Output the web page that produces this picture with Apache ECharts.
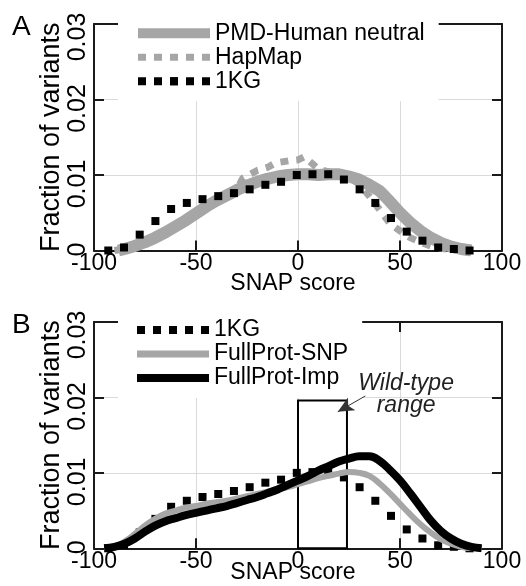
<!DOCTYPE html>
<html><head><meta charset="utf-8">
<script src="https://cdn.jsdelivr.net/npm/echarts@6/dist/echarts.min.js"></script>
<style>html,body{margin:0;padding:0;background:#fff}#c{width:526px;height:586px}</style>
</head><body><div id="c"></div>
<script>
// ---------- data ----------
const xTickLabels = ['-100', '-50', '0', '50', '100'];
const yTickValues = [0, 0.01, 0.02, 0.03];
const yTickLabels = ['0', '0.01', '0.02', '0.03'];

// Panel A
const pmdX = [-88, -85, -80, -75, -70, -65, -60, -55, -50, -45, -40, -35, -30, -25, -20, -15, -10, -5, 0, 5, 10, 15, 20, 25, 30, 35, 40, 45, 50, 55, 60, 65, 70, 75, 80, 85];
const pmdY = [0, 0.0002, 0.0006, 0.0011, 0.0017, 0.0024, 0.0032, 0.0040, 0.0049, 0.0058, 0.0066, 0.0073, 0.0080, 0.0086, 0.0091, 0.0095, 0.0098, 0.0100, 0.0101, 0.0101, 0.0100, 0.0101, 0.0101, 0.0098, 0.0094, 0.0087, 0.0079, 0.0065, 0.0050, 0.0037, 0.0026, 0.0017, 0.0010, 0.0005, 0.0002, 0];

const hapX = [-90, -85, -80, -75, -70, -65, -60, -55, -50, -45, -40, -35, -30, -27, -20, -15, -11, -4, 0, 3, 7, 10, 15, 20, 25, 30, 35, 40, 45, 50, 55, 60, 65, 70, 75, 80, 85];
const hapY = [0, 0.0002, 0.0005, 0.0010, 0.0016, 0.0023, 0.0031, 0.0039, 0.0048, 0.0057, 0.0065, 0.0073, 0.0081, 0.0096, 0.0106, 0.0110, 0.0116, 0.0119, 0.0120, 0.0124, 0.0115, 0.0108, 0.0104, 0.0101, 0.0097, 0.0088, 0.0072, 0.0054, 0.0036, 0.0026, 0.0017, 0.0011, 0.0006, 0.0003, 0.0001, 0, 0];

const kgX = [-93, -85.3, -77.6, -69.9, -62.2, -54.5, -46.8, -39.1, -31.4, -23.7, -16, -8.3, -0.6, 7.1, 14.8, 22.5, 30.2, 37.9, 45.6, 53.3, 61, 68.7, 76.4, 84.1];
const kgY = [0, 0.0004, 0.0021, 0.0039, 0.0055, 0.0063, 0.0068, 0.0072, 0.0076, 0.0081, 0.0087, 0.0091, 0.0100, 0.0101, 0.0101, 0.0094, 0.0081, 0.0063, 0.0043, 0.0025, 0.0013, 0.0004, 0.0002, 0];

// Panel B
const bX = [-95, -90, -85, -80, -75, -70, -65, -60, -55, -50, -45, -40, -35, -30, -25, -20, -15, -10, -5, 0, 5, 10, 15, 20, 25, 30, 35, 40, 45, 50, 55, 60, 65, 70, 75, 80, 85, 90];
const snpY = [0, 0.0002, 0.0009, 0.0019, 0.0030, 0.0039, 0.0046, 0.0050, 0.0054, 0.0056, 0.0059, 0.0061, 0.0063, 0.0066, 0.0069, 0.0072, 0.0075, 0.0078, 0.0081, 0.0085, 0.0089, 0.0093, 0.0096, 0.0099, 0.0101, 0.0100, 0.0096, 0.0086, 0.0073, 0.0059, 0.0045, 0.0032, 0.0021, 0.0012, 0.0006, 0.0002, 0, 0];
const impY = [0, 0.0002, 0.0006, 0.0013, 0.0022, 0.0030, 0.0036, 0.0040, 0.0044, 0.0047, 0.0050, 0.0053, 0.0056, 0.0060, 0.0064, 0.0068, 0.0073, 0.0078, 0.0084, 0.0090, 0.0096, 0.0103, 0.0109, 0.0115, 0.0119, 0.0122, 0.0122, 0.0116, 0.0104, 0.0090, 0.0073, 0.0055, 0.0037, 0.0023, 0.0013, 0.0006, 0.0002, 0];

// Wild-type range annotation
const wildTypeX = [0, 24];
const wildTypeTop = 0.0196;
const arrowFrom = [33, 0.0202];
const arrowTo = [19.5, 0.0181];
const annotationPos = [53, 0.0204];
const annotationText = 'Wild-type\nrange';

// ---------- chart ----------
const FONT = '"Liberation Sans", Arial, Helvetica, sans-serif';
const GREY = '#a6a6a6';
const AXC = '#1a1a1a';
// rotated y tick labels sit slightly below their ticks, as in the original (pixels)
const yLabelShiftPx = [-1, 9, 9, 13];
function pairs(xs, ys) { return xs.map((x, i) => [x, ys[i]]); }

function xAx(gi, bottom, nameGap) {
  return {
    type: 'value', gridIndex: gi, position: bottom ? 'bottom' : 'top',
    min: -100, max: 100, interval: 50,
    axisLine: { show: true, onZero: false, lineStyle: { color: AXC, width: 2 } },
    axisTick: { show: true, inside: true, length: 10, lineStyle: { color: AXC, width: 2 } },
    axisLabel: bottom ? {
      show: true, fontSize: 23, color: '#000', fontFamily: FONT, margin: 2,
      showMinLabel: true, showMaxLabel: true,
      formatter: (v, i) => xTickLabels[i]
    } : { show: false },
    splitLine: bottom ? { show: true, showMinLine: false, showMaxLine: false, lineStyle: { color: '#dadada', width: 1 } } : { show: false },
    name: bottom ? 'SNAP score' : '', nameLocation: 'middle', nameGap: nameGap || 17, nameMoveOverlap: false,
    nameTextStyle: { fontSize: 23, color: '#000', fontFamily: FONT, padding: [0, 10, 0, 0] }
  };
}
function yAx(gi, left) {
  return {
    type: 'value', gridIndex: gi, position: left ? 'left' : 'right',
    min: 0, max: 0.03, interval: 0.01,
    axisLine: { show: true, onZero: false, lineStyle: { color: AXC, width: 2 } },
    axisTick: { show: true, inside: true, length: 10, lineStyle: { color: AXC, width: 2 } },
    axisLabel: { show: false },
    splitLine: left ? { show: true, showMinLine: false, showMaxLine: false, lineStyle: { color: '#dadada', width: 1 } } : { show: false },
    name: left ? 'Fraction of variants' : '', nameLocation: 'middle', nameRotate: 90, nameGap: 29, nameMoveOverlap: false,
    nameTextStyle: { fontSize: 27, color: '#000', fontFamily: FONT }
  };
}

function legendCfg(top, data) {
  return {
    orient: 'vertical', left: 118, top: top, padding: [3, 14, 8, 15], itemGap: 0,
    itemWidth: 72, itemHeight: 10, backgroundColor: '#fff', selectedMode: false,
    textStyle: { fontSize: 23, color: '#000', fontFamily: FONT, lineHeight: 24 },
    data: data
  };
}
const noSym = { opacity: 0 };
const kgLegend = { name: '1KG', lineStyle: { width: 8, type: [8, 8], opacity: 1, color: '#000' } };
const pmdLegend = { name: 'PMD-Human neutral', lineStyle: { width: 10, type: 'solid', color: GREY }, itemStyle: noSym };
const hapLegend = { name: 'HapMap', lineStyle: { width: 7, type: [8, 8], color: GREY }, itemStyle: noSym };
const snpLegend = { name: 'FullProt-SNP', lineStyle: { width: 7, type: 'solid', color: GREY }, itemStyle: noSym };
const impLegend = { name: 'FullProt-Imp', lineStyle: { width: 8, type: 'solid', color: '#000' }, itemStyle: noSym };

function kgSeries(xi, yi) {
  return {
    type: 'line', name: '1KG', xAxisIndex: xi, yAxisIndex: yi, data: pairs(kgX, kgY),
    symbol: 'rect', symbolSize: 8, showSymbol: true, showAllSymbol: true,
    lineStyle: { width: 0, opacity: 0 }, itemStyle: { color: '#000' }, z: 4
  };
}

const option = {
  animation: false,
  backgroundColor: '#fff',
  grid: [
    { left: 94, top: 24, width: 408, height: 226.5, containLabel: false, outerBoundsMode: 'none' },
    { left: 94, top: 322, width: 408, height: 226.3, containLabel: false, outerBoundsMode: 'none' }
  ],
  xAxis: [xAx(0, true, 22), xAx(0, false), xAx(1, true, 13), xAx(1, false)],
  yAxis: [yAx(0, true), yAx(0, false), yAx(1, true), yAx(1, false)],
  legend: [
    legendCfg(18.3, [pmdLegend, hapLegend, kgLegend]),
    legendCfg(315, [kgLegend, snpLegend, impLegend])
  ],
  series: [
    {
      type: 'line', name: 'PMD-Human neutral', xAxisIndex: 0, yAxisIndex: 0, data: pairs(pmdX, pmdY),
      symbol: 'none', lineStyle: { color: GREY, width: 12 }, itemStyle: { color: GREY }, z: 2
    },
    {
      type: 'line', name: 'HapMap', xAxisIndex: 0, yAxisIndex: 0, data: pairs(hapX, hapY),
      symbol: 'none', lineStyle: { color: GREY, width: 7, type: [8, 8] }, itemStyle: { color: GREY }, z: 3
    },
    kgSeries(0, 0),
    kgSeries(2, 2),
    {
      type: 'line', name: 'FullProt-SNP', xAxisIndex: 2, yAxisIndex: 2, data: pairs(bX, snpY),
      smooth: 0.4, symbol: 'none', lineStyle: { color: GREY, width: 6 }, itemStyle: { color: GREY }, z: 5,
      markArea: {
        silent: true, itemStyle: { color: 'rgba(0,0,0,0)', borderColor: '#000', borderWidth: 2 },
        label: { show: false },
        data: [[{ coord: [wildTypeX[0], 0] }, { coord: [wildTypeX[1], wildTypeTop] }]]
      }
    },
    {
      type: 'line', name: 'FullProt-Imp', xAxisIndex: 2, yAxisIndex: 2, data: pairs(bX, impY),
      smooth: 0.4, symbol: 'none', lineStyle: { color: '#000', width: 8 }, itemStyle: { color: '#000' }, z: 6,
      markLine: {
        silent: true, symbol: ['none', 'arrow'], symbolSize: [11, 16],
        lineStyle: { color: '#333', width: 1, type: 'solid' }, label: { show: false },
        data: [[{ coord: arrowFrom }, { coord: arrowTo }]]
      },
      markPoint: {
        silent: true, symbol: 'circle', symbolSize: 1, itemStyle: { color: 'rgba(0,0,0,0)' },
        label: {
          show: true, position: 'inside', formatter: annotationText, fontSize: 23, fontStyle: 'italic',
          fontFamily: FONT, color: '#222', lineHeight: 22, align: 'center', verticalAlign: 'middle'
        },
        data: [{ coord: annotationPos }]
      }
    }
  ]
};
const chart = echarts.init(document.getElementById('c'), null, { renderer: 'canvas' });
chart.setOption(option);

// rotated y tick labels placed through the axis scales
function yLabels(xi, yi) {
  const px = chart.convertToPixel({ xAxisIndex: xi }, -100);
  return yTickValues.map((v, i) => {
    const py = chart.convertToPixel({ yAxisIndex: yi }, v);
    return {
      type: 'text', x: px - 3, y: py + yLabelShiftPx[i], rotation: Math.PI / 2, silent: true,
      style: {
        text: yTickLabels[i], fontSize: 25, fontFamily: FONT, fill: '#000',
        align: 'center', verticalAlign: 'bottom', textAlign: 'center', textVerticalAlign: 'bottom'
      }
    };
  });
}
chart.setOption({
  graphic: [
    { type: 'text', left: 12, top: 13, silent: true, style: { text: 'A', fontSize: 28, fontFamily: FONT, fill: '#000' } },
    { type: 'text', left: 12, top: 311, silent: true, style: { text: 'B', fontSize: 28, fontFamily: FONT, fill: '#000' } }
  ].concat(yLabels(0, 0), yLabels(2, 2))
});
</script></body></html>
